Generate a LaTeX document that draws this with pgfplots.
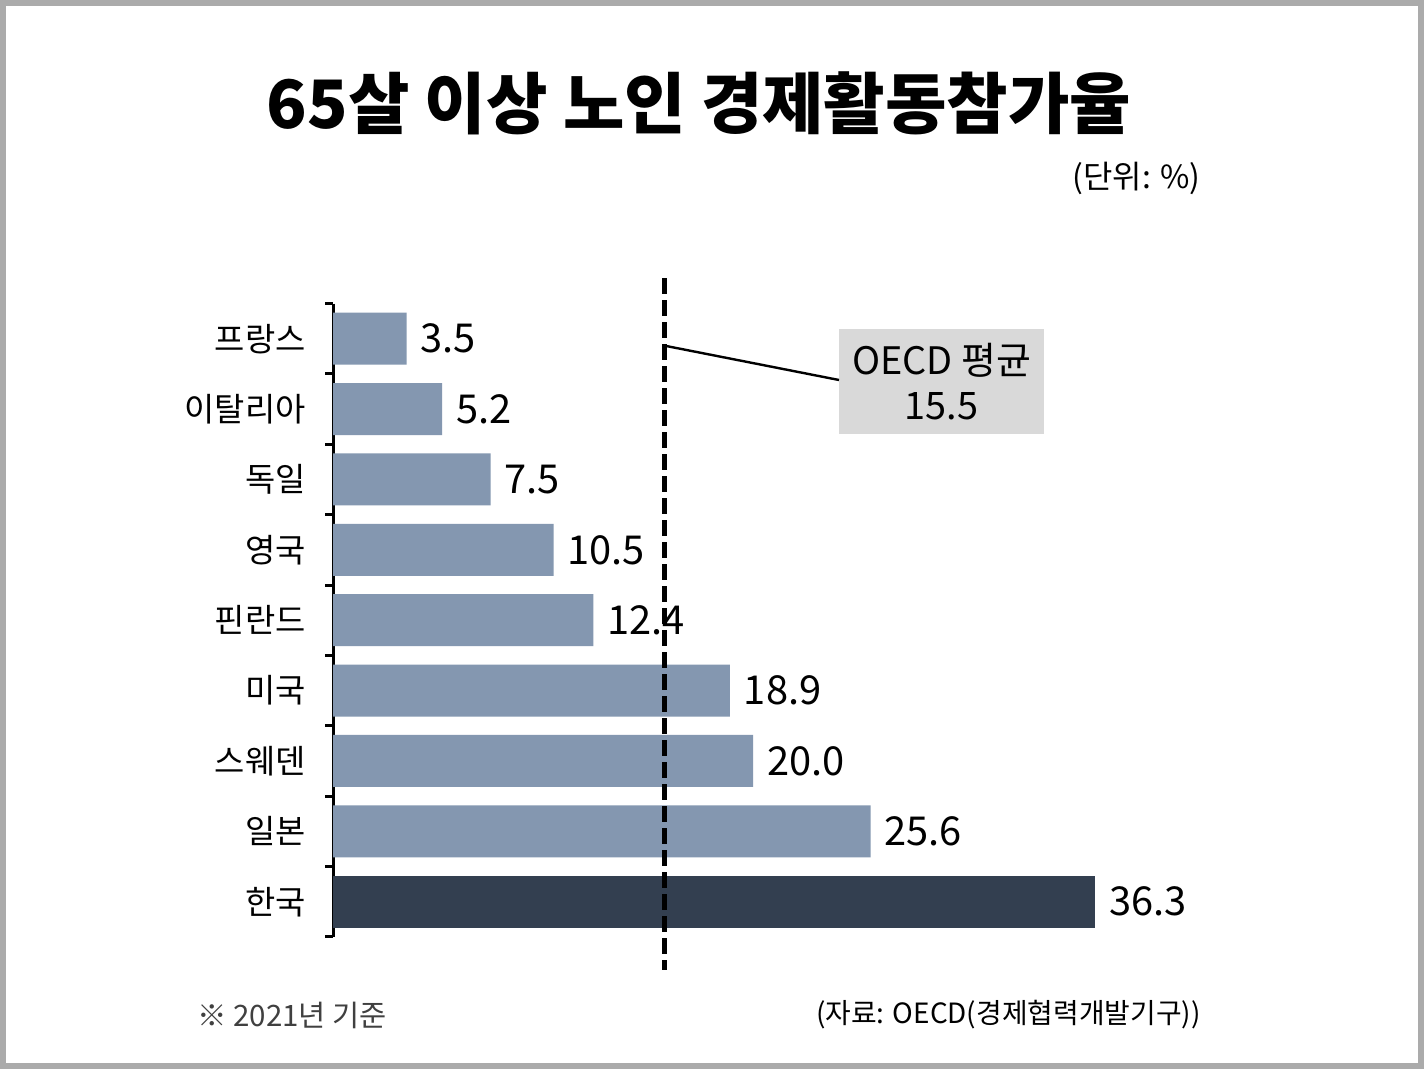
\documentclass[border=0pt]{standalone}
\usepackage{pgfplots}
\pgfplotsset{compat=1.18}
\usepackage{fontspec}
\setmainfont{Noto Sans CJK KR}
\definecolor{barblue}{HTML}{8497B0}
\definecolor{bardark}{HTML}{333F50}
\definecolor{framegray}{HTML}{ABABAB}
\definecolor{boxgray}{HTML}{D9D9D9}
\definecolor{foot}{HTML}{404040}
\begin{document}
\begin{tikzpicture}
\fill[framegray] (0bp,0bp) rectangle (712bp,-534.5bp);
\fill[white] (3bp,-3bp) rectangle (709bp,-531.5bp);
\node[font=\bfseries\fontsize{33.5}{38}\selectfont] at (349.5bp,-51.5bp) {65살 이상 노인 경제활동참가율};
\node[anchor=east,inner sep=0pt,font=\fontsize{16}{19}\selectfont] at (600.5bp,-89bp) {(단위: \%)};
\begin{axis}[
  at={(166.5bp,-151.75bp)}, anchor=north west,
  scale only axis, width=420bp, height=316.7bp,
  xbar, bar shift=0pt, bar width=26bp,
  xmin=0, xmax=40, ymin=-0.5, ymax=8.5, y dir=reverse,
  axis x line=none, axis y line*=left,
  axis line style={line width=1.5bp, black},
  ytick={0,...,8},
  yticklabels={프랑스,이탈리아,독일,영국,핀란드,미국,스웨덴,일본,한국},
  major tick length=0pt,
  minor ytick={-0.5,0.5,...,8.5},
  minor tick length=4bp,
  tick align=outside,
  minor tick style={line width=1.5bp, black},
  yticklabel style={font=\fontsize{16.5}{19}\selectfont, inner sep=0pt, xshift=-13.5bp},
  point meta=x,
  nodes near coords={\pgfmathprintnumber[fixed,fixed zerofill,precision=1,assume math mode=true]{\pgfplotspointmeta}},
  nodes near coords style={anchor=west, xshift=3.5bp, font=\fontsize{20}{23}\selectfont, black},
  clip=false,
]
\addplot[draw=none, fill=barblue] coordinates {
 (3.5,0) (5.2,1) (7.5,2) (10.5,3) (12.4,4) (18.9,5) (20.0,6) (25.6,7)
};
\addplot[draw=none, fill=bardark] coordinates {(36.3,8)};
\draw[line width=2.4bp, dash pattern=on 8bp off 3bp] (axis cs:15.8,-0.86) -- (axis cs:15.8,8.97);
\coordinate (lstart) at (axis cs:15.8,0.1);
\end{axis}
\fill[boxgray] (419.5bp,-164.5bp) rectangle (522bp,-217bp);
\draw[line width=1.2bp] (lstart) -- (419.5bp,-190bp);
\node[align=center, font=\fontsize{19}{22.5}\selectfont] at (470.75bp,-190.75bp) {OECD 평균\\15.5};
\node[anchor=west,inner sep=0pt,text=foot,font=\fontsize{14.8}{17}\selectfont] at (98.5bp,-507.5bp) {※ 2021년 기준};
\node[anchor=east,inner sep=0pt,text=black,font=\fontsize{14}{17}\selectfont] at (600.5bp,-507.5bp) {(자료: OECD(경제협력개발기구))};
\end{tikzpicture}
\end{document}
